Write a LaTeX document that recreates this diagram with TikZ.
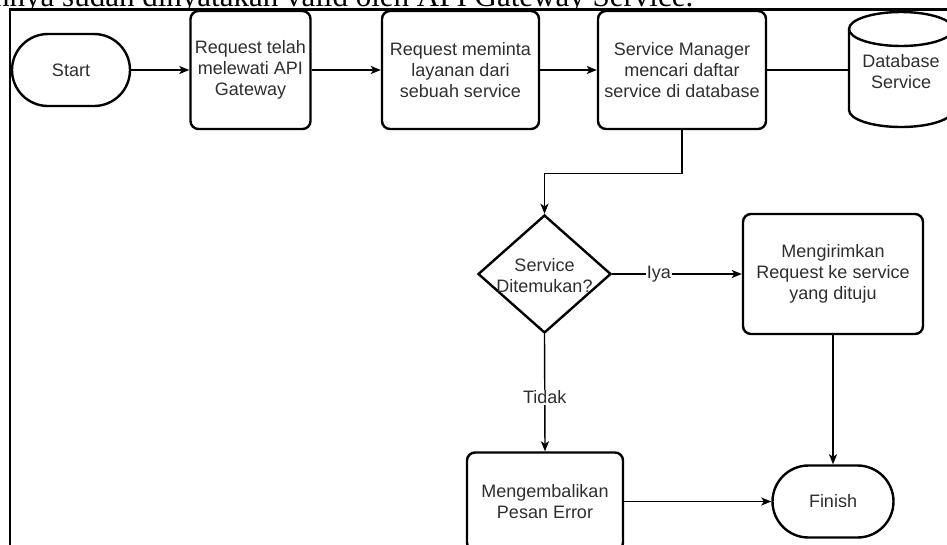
\documentclass[tikz,border=0pt]{standalone}
\usepackage{fontspec}
\setmainfont{Liberation Sans}
\newfontfamily\bodyserif{Liberation Serif}
\usetikzlibrary{arrows.meta,shapes.geometric}
\definecolor{txtgray}{HTML}{2E2E2E}

\begin{document}
\begin{tikzpicture}[x=1pt,y=-1pt,
  every node/.style={font=\fontsize{18}{21}\selectfont, text=txtgray, align=center, inner sep=0pt},
  procbox/.style={draw=black, line width=2.4pt, rounded corners=8pt},
  term/.style={draw=black, line width=2.4pt, rounded corners=36pt, minimum height=72pt},
  decision/.style={draw=black, line width=2.4pt, diamond, minimum width=133pt, minimum height=118pt},
  flow/.style={draw=black, line width=1.4pt, -{Stealth[length=10pt,width=8pt,inset=2.5pt]}},
  plainline/.style={draw=black, line width=1.4pt},
  lbl/.style={fill=white, inner sep=1pt}]

\useasboundingbox (0,0) rectangle (947,544);

% running text of the page above the figure, cut by the page edge
\begin{scope}
  \clip (0,0) rectangle (947,8.5);
  \node[anchor=base west, font=\bodyserif\fontsize{31}{36}\selectfont, text=black]
    (pagetext) at (-6,6) {nnya sudah dinyatakan valid oleh API Gateway Service.};
\end{scope}

% figure frame
\draw[line width=2.6pt] (960,9.5) -- (10,9.5) -- (10,560);

% top row
\node[term, minimum width=118pt] (start) at (71,70) {Start};
\node[procbox, minimum width=120pt, minimum height=118pt] (b1) at (250.5,70)
  {Request telah\\melewati API\\Gateway};
\node[procbox, minimum width=157pt, minimum height=118pt] (b2) at (460.5,70)
  {Request meminta\\layanan dari\\sebuah service};
\node[procbox, minimum width=168pt, minimum height=118pt] (b3) at (682,70)
  {Service Manager\\mencari daftar\\service di database};

% database cylinder
\draw[line width=2.4pt, fill=white] (849,29) -- (849,110)
  arc[start angle=180, end angle=0, x radius=52, y radius=17] -- (953,29);
\draw[line width=2.4pt] (901,29) ellipse[x radius=52, y radius=17];
\node[minimum width=104pt, minimum height=115pt] (db) at (901,72) {Database\\Service};
\coordinate (dbw) at (849,70);

% decision and branches
\node[decision] (dec) at (544.5,274) {};
\node (dectext) at (544.5,275.5) {Service\\Ditemukan?};
\node[procbox, minimum width=180pt, minimum height=120pt] (b4) at (833,274)
  {Mengirimkan\\Request ke service\\yang dituju};
\node[procbox, minimum width=156pt, minimum height=98pt] (b5) at (545,501.5)
  {Mengembalikan\\Pesan Error};
\node[term, minimum width=121pt] (fin) at (833,501.5) {Finish};

% connectors
\draw[flow] (start.east) -- (b1.west);
\draw[flow] (b1.east) -- (b2.west);
\draw[flow] (b2.east) -- (b3.west);
\draw[plainline] (b3.east) -- (dbw);
\draw[flow] (b3.south) -- ++(0,43) -| (dec.north);
\draw[flow] (dec.east) -- node[lbl, pos=0.36] {Iya} (b4.west);
\draw[flow] (dec.south) -- node[lbl, pos=0.54] {Tidak} (b5.north);
\draw[flow] (b4.south) -- (fin.north);
\draw[flow] (b5.east) -- (fin.west);

\end{tikzpicture}
\end{document}
